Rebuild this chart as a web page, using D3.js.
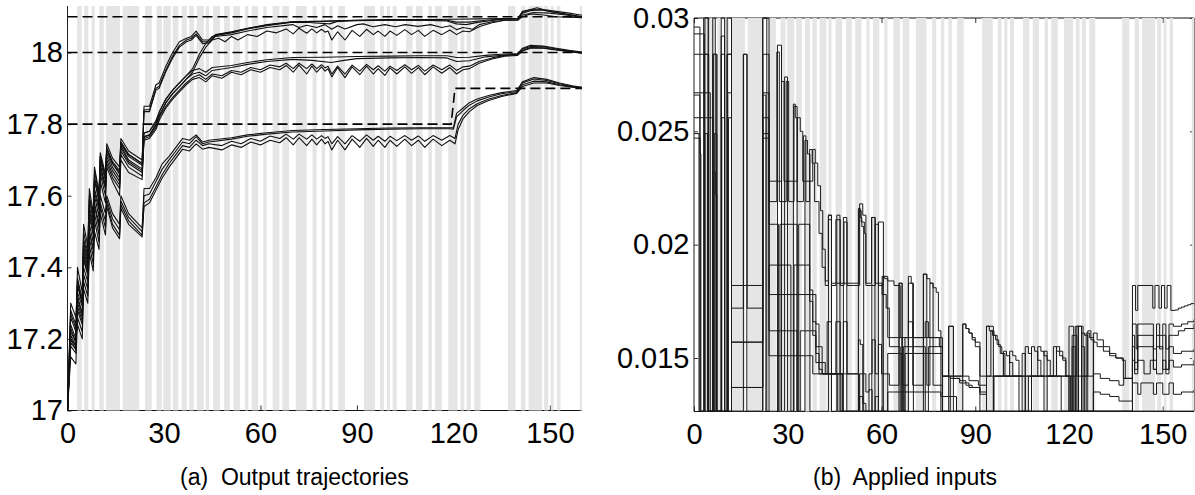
<!DOCTYPE html>
<html><head><meta charset="utf-8">
<script src="https://cdn.jsdelivr.net/npm/d3@7/dist/d3.min.js"></script>
<style>
body{margin:0;background:#fff;}
svg{display:block;font-family:"Liberation Sans",Arial,Helvetica,sans-serif;}
</style></head>
<body><svg id="chart" width="1195" height="495"></svg>
<script>
// ---------- data ----------
const xTicks = [0, 30, 60, 90, 120, 150];
const yTicksOut = [17, 17.2, 17.4, 17.6, 17.8, 18];
const yTicksIn = [0.015, 0.02, 0.025, 0.03];
const captions = ["(a)  Output trajectories", "(b)  Applied inputs"];

// grey time intervals (same in both panels)
const bands = [[3,4.4],[5.2,6.5],[7.5,8.5],[9.9,11.3],[12,16.3],[17.2,22.3],[24.1,26.2],[27.7,29.3],[29.8,32.1],[32.7,34.5],[35.5,37.1],[37.9,39.3],[40.2,42.4],[43,44],[45.3,47.4],[48.7,50.5],[51.6,53.6],[55.2,56.2],[57.3,59.3],[60.9,61.9],[63.8,65.9],[66.8,68.9],[71,74.4],[76.2,77.5],[79,80.1],[81.4,82.5],[84.2,86.3],[92.2,95.6],[97.2,98.4],[99.3,100.3],[101.1,102.4],[105.3,107.3],[108.4,110.4],[112.2,113.3],[114.3,116.4],[118.4,121.3],[122.2,123.4],[124.1,125.4],[126.5,128.4],[137,139.3],[141,142.4],[143.4,147.6],[148.2,149.5],[150.3,151.2],[152.2,153.3],[159.3,160]];

// reference (set-point) lines
const refA = [[0,18.1],[160,18.1]];
const refB = [[0,18],[160,18]];
const refC = [[0,17.8],[119.3,17.8],[120.5,17.9],[160,17.9]];

// output trajectories [t, temperature]
const yA1 = [[0,17],[1,17.24],[2.6,17.2],[3.1,17.4],[4.6,17.33],[5,17.5],[6.3,17.44],[6.8,17.62],[8,17.55],[8.4,17.68],[9.8,17.61],[10.2,17.72],[11.8,17.66],[12.2,17.745],[14,17.705],[16.2,17.68],[16.6,17.76],[19,17.725],[23.2,17.7],[23.8,17.85],[25.5,17.85],[27.5,17.91],[28.5,17.915],[30.5,17.96],[32.7,18.0],[34.8,18.03],[37,18.04],[38.5,18.045],[40,18.06],[42,18.035],[44,18.035],[46,18.05],[51,18.058],[56,18.068],[62,18.077],[70,18.086],[80,18.088],[90,18.09],[100,18.092],[110,18.092],[120,18.093],[128,18.094],[136,18.095],[140,18.095],[141.5,18.115],[144,18.12],[146,18.125],[148,18.12],[152,18.115],[156,18.11],[160,18.104]];
const yA2 = [[0,17],[1,17.2],[2.6,17.18],[3.1,17.36],[4.6,17.3],[5,17.46],[6.3,17.41],[6.8,17.57],[8,17.52],[8.4,17.64],[9.8,17.59],[10.2,17.7],[11.8,17.64],[12.2,17.73],[14,17.69],[16.2,17.665],[16.6,17.75],[19,17.715],[23.2,17.69],[23.8,17.84],[25.5,17.84],[27.5,17.9],[28.5,17.905],[30.5,17.95],[32.7,17.99],[34.8,18.02],[37,18.035],[38.5,18.04],[40,18.052],[42,18.03],[44,18.03],[46,18.048],[51,18.055],[56,18.066],[62,18.075],[70,18.085],[75,18.084],[81.5,18.08],[84,18.087],[90,18.089],[100,18.09],[110,18.09],[118,18.088],[121,18.08],[124,18.078],[128,18.085],[135,18.093],[140,18.094],[141.5,18.11],[144,18.117],[147,18.12],[150,18.115],[155,18.107],[160,18.1]];
const yA3 = [[0,17],[1,17.28],[2.6,17.24],[3.1,17.37],[4.6,17.31],[5,17.52],[6.3,17.46],[6.8,17.6],[8,17.54],[8.4,17.67],[9.8,17.6],[10.2,17.71],[11.8,17.65],[12.2,17.735],[14,17.695],[16.2,17.67],[16.6,17.75],[19,17.715],[23.2,17.69],[23.8,17.835],[25.5,17.835],[27.5,17.895],[28.5,17.9],[30.5,17.945],[32.7,17.985],[34.8,18.015],[37,18.03],[38.5,18.035],[40,18.048],[42,18.025],[44,18.027],[46,18.045],[51,18.05],[56,18.06],[62,18.07],[70,18.078],[72,18.07],[74.4,18.076],[77.5,18.07],[80,18.078],[82.2,18.065],[84,18.075],[86.3,18.066],[90,18.078],[92,18.08],[95,18.072],[98.7,18.078],[102,18.072],[105,18.078],[109,18.073],[113,18.078],[116.4,18.07],[119,18.075],[121,18.064],[123,18.07],[126,18.065],[128,18.078],[132,18.086],[136,18.09],[140,18.09],[141.5,18.105],[145,18.112],[150,18.11],[155,18.105],[160,18.098]];
const yA4 = [[0,17],[1,17.19],[2.6,17.17],[3.1,17.33],[4.6,17.29],[5,17.44],[6.3,17.39],[6.8,17.55],[8,17.5],[8.4,17.62],[9.8,17.57],[10.2,17.68],[11.8,17.63],[12.2,17.72],[14,17.68],[16.2,17.65],[16.6,17.74],[19,17.7],[23.2,17.675],[23.8,17.775],[25.5,17.78],[27.5,17.81],[28.6,17.835],[30.6,17.87],[32.7,17.895],[34.8,17.915],[36.9,17.935],[38.9,17.955],[41,17.995],[43,18.025],[45,18.045],[47,18.05],[51,18.057],[56,18.067],[62,18.078],[70,18.086],[80,18.087],[90,18.09],[100,18.091],[110,18.09],[118,18.09],[121,18.085],[125,18.085],[130,18.09],[136,18.094],[140,18.094],[141.5,18.112],[144,18.12],[148,18.118],[152,18.112],[156,18.106],[160,18.1]];
const yA5 = [[0,17],[1,17.3],[2.6,17.26],[3.1,17.35],[4.6,17.3],[5,17.48],[6.3,17.43],[6.8,17.56],[8,17.51],[8.4,17.65],[9.8,17.58],[10.2,17.69],[11.8,17.62],[12.2,17.71],[14,17.67],[16.2,17.64],[16.6,17.735],[19,17.695],[23.2,17.67],[23.8,17.765],[25.5,17.77],[27.5,17.8],[28.6,17.825],[30.6,17.86],[32.7,17.885],[34.8,17.905],[36.9,17.925],[38.9,17.945],[41,17.985],[43,18.015],[45,18.035],[47,18.04],[49,18.03],[51,18.045],[53,18.035],[56,18.05],[59,18.045],[62,18.06],[65,18.055],[68,18.066],[70.2,18.052],[72,18.068],[74.4,18.054],[76,18.066],[77.5,18.055],[79,18.065],[80.1,18.057],[81,18.06],[82.2,18.035],[84,18.058],[86.3,18.035],[88.5,18.062],[90.9,18.045],[93,18.065],[95.1,18.05],[96.6,18.06],[98.7,18.045],[100.3,18.06],[102.4,18.048],[104.9,18.064],[107,18.05],[109.1,18.062],[111.1,18.045],[113.7,18.062],[116.4,18.05],[118.9,18.063],[121,18.05],[123,18.06],[125,18.058],[128,18.072],[132,18.083],[136,18.09],[140,18.091],[141.5,18.1],[144,18.108],[148,18.105],[152,18.1],[156,18.099],[160,18.097]];
const yB1 = [[0,17],[1,17.23],[2.6,17.19],[3.1,17.35],[4.6,17.3],[5,17.47],[6.3,17.42],[6.8,17.59],[8,17.53],[8.4,17.65],[9.8,17.6],[10.2,17.71],[11.8,17.65],[12.2,17.73],[14,17.69],[16.2,17.66],[16.6,17.745],[19,17.71],[23.2,17.685],[23.8,17.775],[25.5,17.78],[27.5,17.805],[28.6,17.835],[30.6,17.87],[32.7,17.895],[34.8,17.915],[36.9,17.935],[38.9,17.95],[41,17.955],[43,17.945],[45,17.958],[51,17.964],[56,17.972],[62,17.98],[70,17.986],[80,17.987],[90,17.989],[100,17.99],[110,17.991],[118,17.991],[121,17.986],[125,17.987],[130,17.992],[136,17.996],[140,17.997],[141.5,18.012],[144,18.02],[148,18.018],[152,18.012],[156,18.006],[160,18.001]];
const yB2 = [[0,17],[1,17.18],[2.6,17.16],[3.1,17.32],[4.6,17.27],[5,17.42],[6.3,17.38],[6.8,17.54],[8,17.49],[8.4,17.61],[9.8,17.56],[10.2,17.67],[11.8,17.62],[12.2,17.7],[14,17.66],[16.2,17.63],[16.6,17.725],[19,17.69],[23.2,17.665],[23.8,17.765],[25.5,17.77],[27.5,17.795],[28.6,17.825],[30.6,17.86],[32.7,17.885],[34.8,17.905],[36.9,17.925],[38.9,17.94],[41,17.945],[43,17.935],[45,17.95],[51,17.958],[56,17.967],[62,17.975],[70,17.981],[76,17.978],[82,17.972],[86,17.978],[90,17.983],[100,17.985],[110,17.986],[118,17.985],[121,17.975],[125,17.977],[130,17.988],[136,17.993],[140,17.995],[141.5,18.01],[144,18.017],[148,18.016],[152,18.01],[156,18.004],[160,18.0]];
const yB3 = [[0,17],[1,17.27],[2.6,17.23],[3.1,17.31],[4.6,17.27],[5,17.45],[6.3,17.4],[6.8,17.52],[8,17.47],[8.4,17.6],[9.8,17.54],[10.2,17.66],[11.8,17.6],[12.2,17.69],[14,17.65],[16.2,17.62],[16.6,17.715],[19,17.68],[23.2,17.655],[23.8,17.76],[25.5,17.765],[27.5,17.79],[28.6,17.82],[30.6,17.85],[32.7,17.875],[34.8,17.895],[36.9,17.915],[38.9,17.93],[41,17.938],[43,17.925],[45,17.94],[48,17.935],[51,17.95],[54,17.945],[57,17.958],[60,17.952],[63,17.965],[66,17.96],[68,17.97],[70.2,17.955],[72,17.97],[74.4,17.955],[76,17.968],[77.5,17.955],[79,17.966],[80.1,17.957],[81,17.962],[82.2,17.94],[84,17.962],[86.3,17.94],[88.5,17.965],[90.9,17.948],[93,17.967],[95.1,17.952],[96.6,17.963],[98.7,17.948],[100.3,17.962],[102.4,17.95],[104.9,17.966],[107,17.952],[109.1,17.964],[111.1,17.948],[113.7,17.965],[116.4,17.952],[118.9,17.965],[121,17.95],[123,17.96],[125,17.962],[128,17.975],[132,17.985],[136,17.992],[140,17.994],[141.5,18.006],[144,18.014],[148,18.013],[152,18.008],[156,18.003],[160,17.999]];
const yB4 = [[0,17],[1,17.21],[2.6,17.18],[3.1,17.29],[4.6,17.25],[5,17.43],[6.3,17.38],[6.8,17.5],[8,17.45],[8.4,17.58],[9.8,17.52],[10.2,17.64],[11.8,17.58],[12.2,17.68],[14,17.64],[16.2,17.6],[16.6,17.7],[19,17.665],[23.2,17.645],[23.8,17.755],[25.5,17.76],[27.5,17.785],[28.6,17.812],[30.6,17.845],[32.7,17.87],[34.8,17.89],[36.9,17.91],[38.9,17.925],[41,17.93],[43,17.918],[45,17.935],[48,17.928],[51,17.945],[54,17.938],[57,17.952],[60,17.945],[63,17.958],[66,17.952],[68,17.964],[70.2,17.945],[72,17.965],[74.4,17.94],[76,17.962],[77.5,17.945],[79,17.96],[80.1,17.948],[81,17.955],[82.2,17.932],[84,17.958],[86.3,17.93],[88.5,17.96],[90.9,17.938],[93,17.962],[95.1,17.94],[96.6,17.955],[98.7,17.936],[100.3,17.957],[102.4,17.94],[104.9,17.96],[107,17.942],[109.1,17.958],[111.1,17.938],[113.7,17.96],[116.4,17.942],[118.9,17.958],[121,17.94],[123,17.952],[125,17.955],[128,17.97],[132,17.982],[136,17.99],[140,17.992],[141.5,18.004],[144,18.012],[148,18.012],[152,18.007],[156,18.002],[160,17.998]];
const yC1 = [[0,17],[1,17.2],[2.6,17.17],[3.1,17.3],[4.6,17.26],[5,17.4],[6.3,17.36],[6.8,17.5],[8,17.45],[8.4,17.57],[9.8,17.51],[10.2,17.6],[11.8,17.55],[12.2,17.6],[14,17.55],[16.2,17.52],[16.6,17.6],[19,17.55],[23.2,17.51],[23.8,17.62],[25.5,17.62],[27.5,17.65],[29.5,17.69],[31.6,17.71],[33.7,17.735],[35.8,17.76],[37.9,17.755],[40,17.77],[42,17.75],[44,17.755],[51,17.762],[56,17.77],[62,17.776],[70,17.782],[80,17.785],[90,17.787],[100,17.789],[110,17.79],[119,17.79],[120,17.79],[121,17.83],[123,17.845],[125,17.86],[127.4,17.87],[131,17.88],[135,17.888],[139.7,17.894],[141.5,17.918],[145,17.93],[149,17.925],[153,17.915],[157,17.907],[160,17.903]];
const yC2 = [[0,17],[1,17.26],[2.6,17.22],[3.1,17.28],[4.6,17.24],[5,17.38],[6.3,17.34],[6.8,17.48],[8,17.43],[8.4,17.55],[9.8,17.49],[10.2,17.58],[11.8,17.53],[12.2,17.59],[14,17.535],[16.2,17.505],[16.6,17.585],[19,17.54],[23.2,17.5],[23.8,17.6],[25.5,17.605],[27.5,17.64],[29.5,17.675],[31.6,17.7],[33.7,17.725],[35.8,17.75],[37.9,17.745],[40,17.765],[42,17.745],[44,17.75],[51,17.758],[56,17.766],[62,17.772],[70,17.778],[80,17.781],[90,17.784],[100,17.786],[110,17.787],[119,17.787],[120,17.786],[121,17.82],[123,17.838],[125,17.853],[127.4,17.865],[131,17.876],[135,17.885],[139.7,17.891],[141.5,17.915],[145,17.926],[149,17.922],[153,17.913],[157,17.905],[160,17.902]];
const yC3 = [[0,17],[1,17.15],[2.6,17.13],[3.1,17.26],[4.6,17.22],[5,17.36],[6.3,17.32],[6.8,17.46],[8,17.41],[8.4,17.53],[9.8,17.47],[10.2,17.57],[11.8,17.51],[12.2,17.58],[14,17.52],[16.2,17.49],[16.6,17.575],[19,17.53],[23.2,17.49],[23.8,17.58],[25.5,17.59],[27.5,17.625],[29.5,17.66],[31.6,17.69],[33.7,17.715],[35.8,17.74],[37.9,17.735],[40,17.755],[42,17.74],[44,17.745],[48,17.74],[51,17.752],[54,17.745],[57,17.76],[60,17.752],[63,17.767],[66,17.76],[68,17.772],[70.2,17.758],[72,17.772],[74.4,17.758],[76,17.77],[77.5,17.758],[79,17.768],[80.1,17.76],[81,17.765],[82.2,17.745],[84,17.765],[86.3,17.745],[88.5,17.768],[90.9,17.752],[93,17.77],[95.1,17.755],[96.6,17.766],[98.7,17.752],[100.3,17.766],[102.4,17.754],[104.9,17.768],[107,17.755],[109.1,17.767],[111.1,17.752],[113.7,17.768],[116.4,17.755],[118.9,17.768],[120.5,17.76],[121.5,17.8],[123,17.825],[125,17.843],[127.4,17.857],[131,17.87],[135,17.88],[139.7,17.888],[141.5,17.91],[145,17.92],[149,17.918],[153,17.91],[157,17.904],[160,17.9]];
const yC4 = [[0,17],[1,17.22],[2.6,17.19],[3.1,17.24],[4.6,17.2],[5,17.34],[6.3,17.3],[6.8,17.44],[8,17.39],[8.4,17.5],[9.8,17.45],[10.2,17.55],[11.8,17.49],[12.2,17.57],[14,17.51],[16.2,17.48],[16.6,17.565],[19,17.52],[23.2,17.485],[23.8,17.57],[25.5,17.58],[27.5,17.615],[29.5,17.65],[31.6,17.68],[33.7,17.705],[35.8,17.73],[37.9,17.725],[40,17.745],[42,17.73],[44,17.735],[48,17.728],[51,17.742],[54,17.735],[57,17.75],[60,17.742],[63,17.755],[66,17.748],[68,17.762],[70.2,17.742],[72,17.762],[74.4,17.74],[76,17.758],[77.5,17.742],[79,17.758],[80.1,17.745],[81,17.752],[82.2,17.728],[84,17.755],[86.3,17.728],[88.5,17.758],[90.9,17.735],[93,17.76],[95.1,17.738],[96.6,17.755],[98.7,17.735],[100.3,17.755],[102.4,17.738],[104.9,17.758],[107,17.74],[109.1,17.755],[111.1,17.735],[113.7,17.758],[116.4,17.74],[118.9,17.755],[120.5,17.745],[121.5,17.785],[123,17.815],[125,17.835],[127.4,17.852],[131,17.866],[135,17.877],[139.7,17.886],[141.5,17.905],[145,17.915],[149,17.915],[153,17.908],[157,17.903],[160,17.9]];

// applied inputs [t, value] (held until next entry)
const lo = 0.01265;
const u1 = [[0,0.0296],[1.9,0.024],[2.2,lo],[3.1,0.03],[4.7,lo],[6,0.03],[6.8,0.0222],[7.3,lo],[8.7,0.0284],[9.8,lo],[15.8,0.0284],[16.9,lo],[22,0.03],[23.3,lo],[26.7,0.0288],[28,lo],[29,0.0274],[29.9,lo],[31.8,0.0262],[32.4,0.0256],[33,lo],[35.5,0.0246],[36.3,0.024],[37.1,lo],[43,0.0213],[44,lo],[45.7,0.0213],[46.7,lo],[47.8,0.0212],[48.9,lo],[52.6,0.0216],[53.2,0.0212],[53.7,0.0208],[54.3,lo],[56.9,0.0212],[57.9,lo],[59,0.021],[60.6,lo],[65.6,0.0183],[66.6,lo],[68.6,0.0186],[69.5,0.0183],[70.2,lo],[73.4,0.0187],[74.5,0.0185],[75.5,0.0183],[76.5,0.0181],[77.5,0.0179],[78.2,0.0162],[79,lo],[81.5,0.0164],[83,lo],[86,0.0165],[87,0.0163],[88,0.0161],[89,0.0159],[90,0.0157],[91.5,lo],[93.6,0.0164],[95.8,lo],[120,0.0164],[121.5,lo],[123,0.0164],[124.5,lo],[125.5,0.0161],[126.5,0.0159],[127.8,lo],[140.3,0.0182],[141.3,0.0171],[142,0.0182],[146.8,0.0172],[147.5,0.0182],[148.8,0.0172],[149.6,0.0182],[150.6,0.0172],[151.4,0.0182],[152.6,0.0171],[154,0.01712],[155,0.0172],[156,0.01725],[157,0.0173],[158,0.01735],[159,0.0174],[160,0.0174]];
const u2 = [[0,0.0293],[3.3,lo],[3.5,0.03],[4.5,lo],[8.7,0.0292],[9.8,lo],[10.6,0.03],[12,0.0182],[22,0.03],[24,0.0228],[28,0.0272],[28.8,0.0228],[33.1,0.0256],[34,0.025],[34.8,0.0228],[38,0.0242],[38.8,0.0236],[39.6,0.0226],[40.5,0.0215],[41.2,0.0198],[42,0.0182],[43,0.0211],[44,0.0182],[45.4,0.0211],[46.8,0.0182],[48,0.021],[49,0.0182],[53,0.0218],[54,0.0213],[55,0.0182],[58,0.0209],[59,0.0182],[60.5,0.0186],[62,0.0184],[64,0.0182],[66,0.0159],[68.6,0.0166],[70,0.0159],[78.5,0.0155],[79.5,0.0142],[82,0.0141],[85,0.0139],[88,0.0137],[91.5,0.0134],[93.6,0.0142],[100,0.0142],[105,lo],[106,0.0142],[111,0.0142],[112,lo],[113,0.0142],[119,0.0142],[120,lo],[122,0.0142],[127.8,0.0143],[130,0.0141],[133,0.014],[136,0.0138],[137.5,0.0141],[140.3,0.0139],[142,0.0134],[143,0.0139],[147,0.0134],[148,0.0139],[150,0.0134],[152,0.0139],[153.4,0.0134],[156,0.0135],[160,0.0136]];
const u3 = [[0,0.0284],[3.1,0.0284],[4.5,lo],[6,0.0284],[7.3,lo],[10.6,0.0284],[12,0.0172],[15.8,0.0284],[17,0.0172],[22,0.0284],[24,0.0219],[26.5,0.0285],[27.3,0.0219],[29.5,0.0272],[30.3,0.0219],[32,0.0261],[33,0.0219],[35,0.0248],[35.8,0.0219],[37,0.0242],[37.8,0.0236],[38.6,0.0219],[40,0.0205],[41,0.019],[42,0.0184],[43,0.0213],[44,0.0183],[52.7,0.0215],[53.5,0.021],[54.5,0.0205],[55,0.0183],[56.8,0.0212],[58,0.0183],[60.2,0.0178],[61.5,0.0172],[62.5,0.0155],[65,0.0155],[66,lo],[67,0.0155],[73,0.0155],[74,lo],[75,0.0155],[79.5,0.0142],[81.5,0.0164],[83,0.0142],[88,0.014],[91,0.0138],[93.6,0.0164],[94.5,0.0162],[95.5,0.016],[96.5,0.0158],[97.5,0.0155],[98.5,0.0152],[99.5,0.0142],[101,0.0153],[102,0.0151],[103,0.0149],[104,0.0142],[105,0.0152],[106,lo],[107,0.0142],[110,0.0155],[111,0.0153],[112,0.0151],[113,0.0149],[114,0.0142],[115,0.0155],[116,0.0153],[117,0.0151],[118,0.0149],[119,0.0142],[122.5,0.0164],[124,0.0142],[126,0.0162],[127,0.0158],[128,0.0157],[129,0.0155],[131,0.0153],[133,0.0151],[135,0.015],[137,0.0149],[138,0.0141],[140.3,0.0165],[141.5,0.0154],[142,0.0165],[147,0.0154],[148,0.0165],[149,0.0154],[150,0.0165],[151,0.0154],[152,0.0165],[153.4,0.0164],[156,0.0165],[158,0.0166],[160,0.0167]];
const u4 = [[0,0.0267],[5.2,lo],[8.7,0.03],[9.8,lo],[10.8,0.0267],[12,0.0157],[22,0.0267],[24,0.0209],[26,0.0209],[27,lo],[27.5,0.0209],[32,0.0209],[33,lo],[33.5,0.0209],[36,0.0209],[37,0.018],[38,0.0166],[39,0.0155],[40,0.0148],[41,0.0143],[42.6,0.0166],[44,0.0143],[45.4,0.0166],[46.8,0.0143],[47.8,0.0166],[49,0.0143],[52.6,0.0158],[53.2,0.0156],[54,0.0143],[55,0.0135],[56,0.0143],[57,0.0158],[58,0.0143],[59,0.0156],[60,0.0143],[62.5,0.0138],[65.6,0.0183],[66.6,0.0138],[68.6,0.0183],[70,0.0138],[73.4,0.0187],[74.5,0.0138],[75.5,0.0183],[76.5,0.0138],[79.5,lo],[82,0.0142],[86,0.0165],[87,0.0163],[88,0.0161],[89,0.0158],[90,0.0155],[91.5,0.0142],[95,0.0162],[96,0.016],[97,0.0156],[98,0.0152],[99,0.0142],[108,0.0155],[109,0.0153],[110,0.0149],[111,0.0142],[116,0.0155],[117,0.0153],[118,0.015],[119,0.0142],[121,lo],[122,0.0164],[123,lo],[124,0.0161],[125,0.016],[126,lo],[127.8,0.0161],[129,0.0158],[131,0.0155],[133,0.0152],[135,0.015],[137.4,0.0141],[140.3,0.0155],[141,0.0148],[142,0.0155],[146,0.0155],[147,0.0145],[148,0.0155],[150,0.0145],[152,0.0155],[153.4,0.0152],[156,0.0153],[160,0.0154]];
const u5 = [[0,0.0266],[1.9,lo],[3.3,0.0284],[4.7,lo],[6.2,0.0284],[7.3,lo],[10.6,0.0284],[12,0.0137],[22,0.0266],[23,lo],[24,0.0191],[30,0.0191],[31,lo],[32,0.0191],[36,0.0191],[37,0.0175],[38,0.016],[39,0.0148],[40,0.0143],[46,0.0143],[47.5,lo],[53,0.0143],[54,lo],[56,0.0136],[57,lo],[58,0.0133],[59,lo],[60.2,0.0186],[61,0.0185],[62,0.0159],[65.6,0.0159],[66.6,lo],[67.5,0.0159],[73,0.0159],[74,0.0166],[75,0.0159],[79.5,0.0142],[81.5,0.0142],[83,0.0141],[85,0.014],[87,0.0138],[89,0.0137],[91.5,0.0135],[93.6,lo],[95.8,0.0142],[99,0.0153],[100,0.0151],[101,0.0148],[102,0.0142],[106,0.0155],[107,0.0152],[108,0.0142],[112,0.0153],[113,0.0142],[116,0.0142],[117.5,lo],[121,0.0155],[122,lo],[124,0.0155],[125,lo],[127.8,0.0135],[130,0.0134],[133,0.0133],[136,0.0131],[140.3,0.016],[141,0.0145],[142,0.016],[147,0.0145],[148,0.016],[150,0.016],[151,0.0145],[152,0.016],[153.4,0.016],[155,0.0162],[157,0.0163],[160,0.0165]];
const u6 = [[0,0.0256],[5.5,0.0256],[6,lo],[8.9,0.0256],[9.8,lo],[11,0.0256],[12,0.0157],[22,0.0256],[24,0.0178],[38,0.0178],[39,0.0165],[40,0.0155],[41,0.0148],[42,0.0143],[47,0.0143],[52.7,lo],[53,0.0133],[54,0.013],[55,lo],[62,0.0135],[79,0.0133],[84,lo],[96,0.0142],[103,0.0142],[104,lo],[108,0.0142],[119,0.0142],[120.5,lo],[121,0.016],[122.5,lo],[140.3,0.0149],[141,0.0143],[142,0.0149],[144,0.0143],[146,0.0149],[148,0.0143],[150,0.0149],[151,0.0143],[152,0.0149],[153.4,0.0146],[156,0.0147],[160,0.0149]];
const u7 = [[0,0.0249],[1.6,lo],[3.5,0.0249],[4.3,lo],[6.5,0.0249],[7.3,lo],[22,0.0249],[24,0.0162],[32,0.0162],[33,lo],[34,0.0162],[38,0.0162],[39,0.0152],[40,0.0145],[41,0.0143],[46,0.0143],[47,lo],[62,0.0152],[65,0.0152],[66.5,lo],[67.5,0.0152],[79.5,lo],[160,lo]];
const u8 = [[0,0.0247],[2,lo],[6,0.0232],[6.8,lo],[12,0.0137],[22,0.0247],[24,0.0151],[36,0.0151],[38,0.0143],[44,0.0143],[46,lo],[160,lo]];

const outputs = [yA1,yA2,yA3,yA4,yA5,yB1,yB2,yB3,yB4,yC1,yC2,yC3,yC4];
const refs = [refA, refB, refC];
const inputs = [u1,u2,u3,u4,u5,u6,u7,u8];

// ---------- drawing ----------
const svg = d3.select("#chart");
const FONT = 29;

const xL = d3.scaleLinear().domain([0,160]).range([67.5,582]);
const yL = d3.scaleLinear().domain([17,18.13]).range([410.5,6]);
const xR = d3.scaleLinear().domain([0,160]).range([694,1194]);
const yR = d3.scaleLinear().domain([0.01264,0.03]).range([411.5,18]);

function panel(id, x, y, yTicks, yFmt, boxFull) {
  const g = svg.append("g");
  const [x0,x1] = x.range(), [y0,y1] = y.range();
  g.append("clipPath").attr("id","clip"+id).append("rect")
    .attr("x",x0).attr("y",y1-1).attr("width",x1-x0).attr("height",y0-y1+2);

  const ax = g.append("g").attr("class","axes");
  ax.append("g").attr("transform",`translate(0,${y0})`)
    .call(d3.axisBottom(x).tickValues(xTicks).tickSizeInner(-5).tickSizeOuter(0).tickPadding(12).tickFormat(d3.format("d")));
  ax.append("g").attr("transform",`translate(${x0},0)`)
    .call(d3.axisLeft(y).tickValues(yTicks).tickSizeInner(-4).tickSizeOuter(0).tickPadding(4.5).tickFormat(yFmt));
  if (boxFull) {
    ax.append("g").attr("transform",`translate(0,${y1})`)
      .call(d3.axisTop(x).tickValues(xTicks).tickSizeInner(-5).tickSizeOuter(0).tickFormat(""));
    ax.append("g").attr("transform",`translate(${x1},0)`)
      .call(d3.axisRight(y).tickValues(yTicks).tickSizeInner(-4).tickSizeOuter(0).tickFormat(""));
  }
  ax.selectAll(".domain").remove();
  ax.selectAll(".tick line").attr("stroke","#333").attr("stroke-width",1);
  ax.selectAll(".tick text").attr("font-size",FONT).attr("fill","#000")
    .attr("font-family",'"Liberation Sans",Arial,sans-serif');
  ax.append("line").attr("x1",x0).attr("x2",x0).attr("y1",y1).attr("y2",y0).attr("stroke","#222");
  ax.append("line").attr("x1",x0).attr("x2",x1).attr("y1",y0).attr("y2",y0).attr("stroke","#111");
  if (boxFull) {
    ax.append("line").attr("x1",x0).attr("x2",x1).attr("y1",y1).attr("y2",y1).attr("stroke","#111");
    ax.append("line").attr("x1",x1).attr("x2",x1).attr("y1",y1).attr("y2",y0).attr("stroke","#111");
  }
  g.append("g").selectAll("rect").data(bands).join("rect")
    .attr("x",d=>x(d[0])).attr("width",d=>x(d[1])-x(d[0]))
    .attr("y",y1).attr("height",y0-y1).attr("fill","#e5e5e5");
  return g;
}

const gL = panel("L", xL, yL, yTicksOut, d3.format(""), false);
const lineL = d3.line().x(d=>xL(d[0])).y(d=>yL(d[1]));
const dataL = gL.append("g").attr("clip-path","url(#clipL)");
dataL.selectAll("path.ref").data(refs).join("path").attr("class","ref")
  .attr("d",lineL).attr("fill","none").attr("stroke","#000")
  .attr("stroke-width",1.6).attr("stroke-dasharray","10,5");
dataL.selectAll("path.out").data(outputs).join("path").attr("class","out")
  .attr("d",lineL).attr("fill","none").attr("stroke","#111")
  .attr("stroke-width",1.1).attr("stroke-linejoin","round");

const gR = panel("R", xR, yR, yTicksIn, d3.format(""), true);
const lineR = d3.line().curve(d3.curveStepAfter).x(d=>xR(d[0])).y(d=>yR(d[1]));
const dataR = gR.append("g").attr("clip-path","url(#clipR)");
dataR.selectAll("path.in").data(inputs).join("path").attr("class","in")
  .attr("d",lineR).attr("fill","none").attr("stroke","#1a1a1a")
  .attr("stroke-width",1);

svg.append("text").attr("x",180).attr("y",485).attr("font-size",23)
  .attr("xml:space","preserve").style("white-space","pre").text(captions[0]);
svg.append("text").attr("x",813).attr("y",485).attr("font-size",23)
  .attr("xml:space","preserve").style("white-space","pre").text(captions[1]);
</script>
</body></html>
